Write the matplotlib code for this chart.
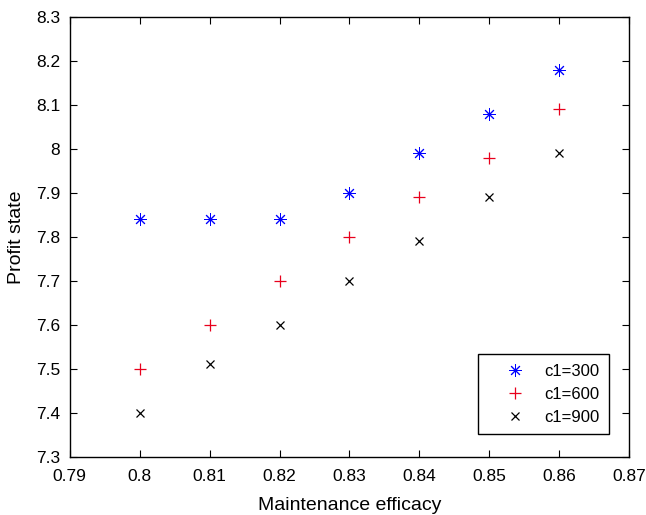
import numpy as np
import matplotlib
matplotlib.use("Agg")
import matplotlib.pyplot as plt

plt.rcParams.update(
    {
        "font.family": ["Liberation Sans", "DejaVu Sans"],
        "font.size": 12,
    }
)

efficacy = [0.80, 0.81, 0.82, 0.83, 0.84, 0.85, 0.86]
profit_c300 = [7.84, 7.84, 7.84, 7.90, 7.99, 8.08, 8.18]
profit_c600 = [7.50, 7.60, 7.70, 7.80, 7.89, 7.98, 8.09]
profit_c900 = [7.40, 7.51, 7.60, 7.70, 7.79, 7.89, 7.99]
labels = ["c1=300", "c1=600", "c1=900"]

xticks = np.round(np.arange(0.79, 0.8701, 0.01), 2)
yticks = np.round(np.arange(7.3, 8.3001, 0.1), 1)

fig = plt.figure(figsize=(6.46, 5.15), dpi=100)
ax = fig.add_axes([0.108, 0.113, 0.866, 0.854])

ax.plot(efficacy, profit_c300, linestyle="none", marker=(8, 2, 0), markersize=9,
        markeredgewidth=0.7, color="blue", label=labels[0])
ax.plot(efficacy, profit_c600, linestyle="none", marker="+", markersize=9,
        markeredgewidth=0.9, color="#e8001c", label=labels[1])
ax.plot(efficacy, profit_c900, linestyle="none", marker="x", markersize=6,
        markeredgewidth=0.9, color="black", label=labels[2])

ax.set_xlim(0.79, 0.87)
ax.set_ylim(7.3, 8.3)
ax.set_xticks(xticks)
ax.set_yticks(yticks)
ax.set_xticklabels([f"{v:g}" for v in xticks])
ax.set_yticklabels([f"{v:g}" for v in yticks])
ax.tick_params(direction="in", top=True, right=True, length=5, width=0.8,
               labelsize=12.5)
ax.tick_params(axis="x", pad=9)
ax.tick_params(axis="y", pad=7)
for sp in ax.spines.values():
    sp.set_linewidth(1.0)

ax.set_xlabel("Maintenance efficacy", fontsize=14, labelpad=9)
ax.set_ylabel("Profit state", fontsize=14, labelpad=8)

leg = ax.legend(loc="lower right", bbox_to_anchor=(0.9634, 0.051), borderaxespad=0,
                fancybox=False, edgecolor="black", framealpha=1, fontsize=12,
                borderpad=0.55, handletextpad=0.1, handlelength=3.3,
                labelspacing=0.5)
leg.get_frame().set_linewidth(1.0)

fig.savefig("out.png", dpi=100)
